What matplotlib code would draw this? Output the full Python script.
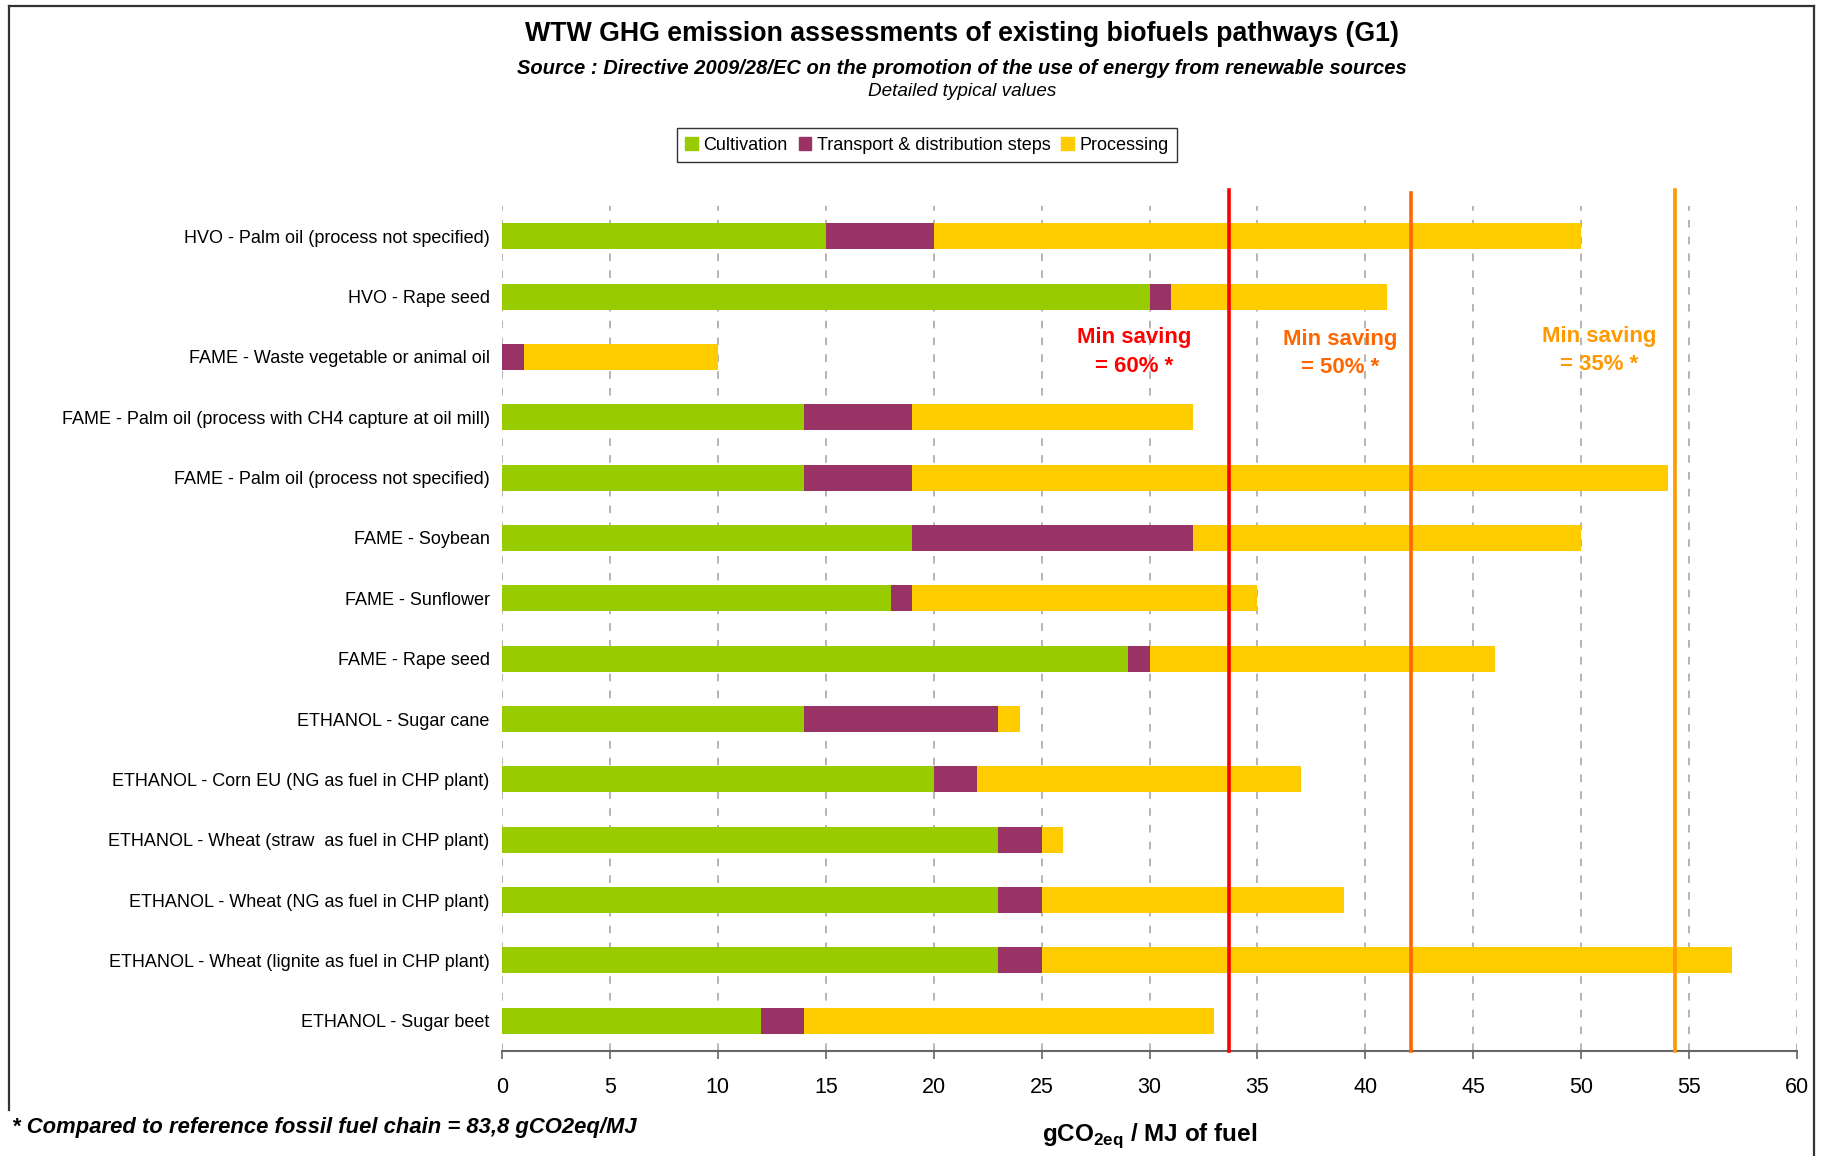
import matplotlib
matplotlib.use("Agg")
import matplotlib.pyplot as plt
from matplotlib.lines import Line2D
from matplotlib.patches import Patch

plt.rcParams['font.family'] = ['Liberation Sans', 'DejaVu Sans']
plt.rcParams['mathtext.fontset'] = 'custom'
plt.rcParams['mathtext.rm'] = 'Liberation Sans'
plt.rcParams['mathtext.bf'] = 'Liberation Sans:bold'

pathways = [
    "HVO - Palm oil (process not specified)",
    "HVO - Rape seed",
    "FAME - Waste vegetable or animal oil",
    "FAME - Palm oil (process with CH4 capture at oil mill)",
    "FAME - Palm oil (process not specified)",
    "FAME - Soybean",
    "FAME - Sunflower",
    "FAME - Rape seed",
    "ETHANOL - Sugar cane",
    "ETHANOL - Corn EU (NG as fuel in CHP plant)",
    "ETHANOL - Wheat (straw  as fuel in CHP plant)",
    "ETHANOL - Wheat (NG as fuel in CHP plant)",
    "ETHANOL - Wheat (lignite as fuel in CHP plant)",
    "ETHANOL - Sugar beet",
]
cultivation = [15, 30, 0, 14, 14, 19, 18, 29, 14, 20, 23, 23, 23, 12]
transport = [5, 1, 1, 5, 5, 13, 1, 1, 9, 2, 2, 2, 2, 2]
processing = [30, 10, 9, 13, 35, 18, 16, 16, 1, 15, 1, 14, 32, 19]

# min saving thresholds (gCO2eq/MJ) and their labels
saving_values = [33.7, 42.1, 54.35]
saving_labels = ["Min saving\n= 60% *", "Min saving\n= 50% *", "Min saving\n= 35% *"]
saving_colors = ["#FF0000", "#FF6600", "#FF9900"]
xticks = list(range(0, 61, 5))

W, H = 1821, 1156
fig = plt.figure(figsize=(W / 100, H / 100), dpi=100)
ax = fig.add_axes([502 / W, 105 / H, 1295 / W, 845 / H])

y = list(range(len(pathways)))
left2 = [a + b for a, b in zip(cultivation, transport)]
ax.barh(y, cultivation, height=0.43, color="#99CC00", zorder=2)
ax.barh(y, transport, left=cultivation, height=0.43, color="#993366", zorder=2)
ax.barh(y, processing, left=left2, height=0.43, color="#FFCC00", zorder=2)

ax.set_ylim(len(pathways) - 0.5, -0.5)
ax.set_xlim(0, 60)
ax.set_xticks(xticks)
ax.set_xticklabels([str(t) for t in xticks], fontsize=15.5)
ax.set_yticks(y)
ax.set_yticklabels(pathways, fontsize=13)
ax.tick_params(axis='y', length=0, pad=9)
ax.tick_params(axis='x', length=6, width=1.2, color="#666666", pad=13, direction='out')
ax.xaxis.grid(True, color="#A0A0A0", linestyle=(0, (5, 6)), linewidth=1.1, zorder=1)
for s in ['left', 'right', 'top']:
    ax.spines[s].set_visible(False)
ax.spines['bottom'].set_color("#666666")
ax.spines['bottom'].set_linewidth(1.5)

tops = [1.019, 1.015, 1.019]
for v, c, t in zip(saving_values, saving_colors, tops):
    ax.axvline(v, ymin=0, ymax=t, color=c, linewidth=2.6, clip_on=False, zorder=3)

label_x = [29.3, 38.85, 50.85]
label_y = [1.92, 1.95, 1.9]
for lx, ly, lab, c in zip(label_x, label_y, saving_labels, saving_colors):
    ax.text(lx, ly, lab, color=c, fontsize=16, fontweight='bold',
            ha='center', va='center', linespacing=1.45)

# titles
fig.text(962 / W, 1 - 34 / H, "WTW GHG emission assessments of existing biofuels pathways (G1)",
         ha='center', va='center', fontsize=19.3, fontweight='bold')
fig.text(962 / W, 1 - 69 / H,
         "Source : Directive 2009/28/EC on the promotion of the use of energy from renewable sources",
         ha='center', va='center', fontsize=14.5, fontweight='bold', style='italic')
fig.text(962 / W, 1 - 92 / H, "Detailed typical values", ha='center', va='center',
         fontsize=13.6, style='italic')

handles = [Patch(color="#99CC00"), Patch(color="#993366"), Patch(color="#FFCC00")]
leg = fig.legend(handles, ["Cultivation", "Transport & distribution steps", "Processing"],
                 loc='center', bbox_to_anchor=(927 / W, 1 - 145 / H), ncol=3,
                 fontsize=13, frameon=True, fancybox=False, handlelength=0.7,
                 handleheight=0.7, handletextpad=0.3, columnspacing=0.6,
                 borderpad=0.45)
leg.get_frame().set_edgecolor("black")
leg.get_frame().set_linewidth(1.0)

fig.text(12 / W, 1 - 1127 / H, "* Compared to reference fossil fuel chain = 83,8 gCO2eq/MJ",
         ha='left', va='center', fontsize=15.8, fontweight='bold', style='italic')
fig.text(1150 / W, 1 - 1136 / H, r"gCO$_{\mathbf{2eq}}$ / MJ of fuel", ha='center',
         va='center', fontsize=17.5, fontweight='bold')

# outer frame (bottom edge cut off as in the source image)
fc = "#333333"
fig.add_artist(Line2D([9 / W, 1814 / W], [1 - 6 / H, 1 - 6 / H], color=fc, linewidth=1.6))
fig.add_artist(Line2D([9 / W, 9 / W], [1 - 6 / H, 1 - 1110 / H], color=fc, linewidth=1.6))
fig.add_artist(Line2D([1814 / W, 1814 / W], [1 - 6 / H, 0], color=fc, linewidth=1.6))

fig.savefig("out.png", dpi=100, facecolor="white")
